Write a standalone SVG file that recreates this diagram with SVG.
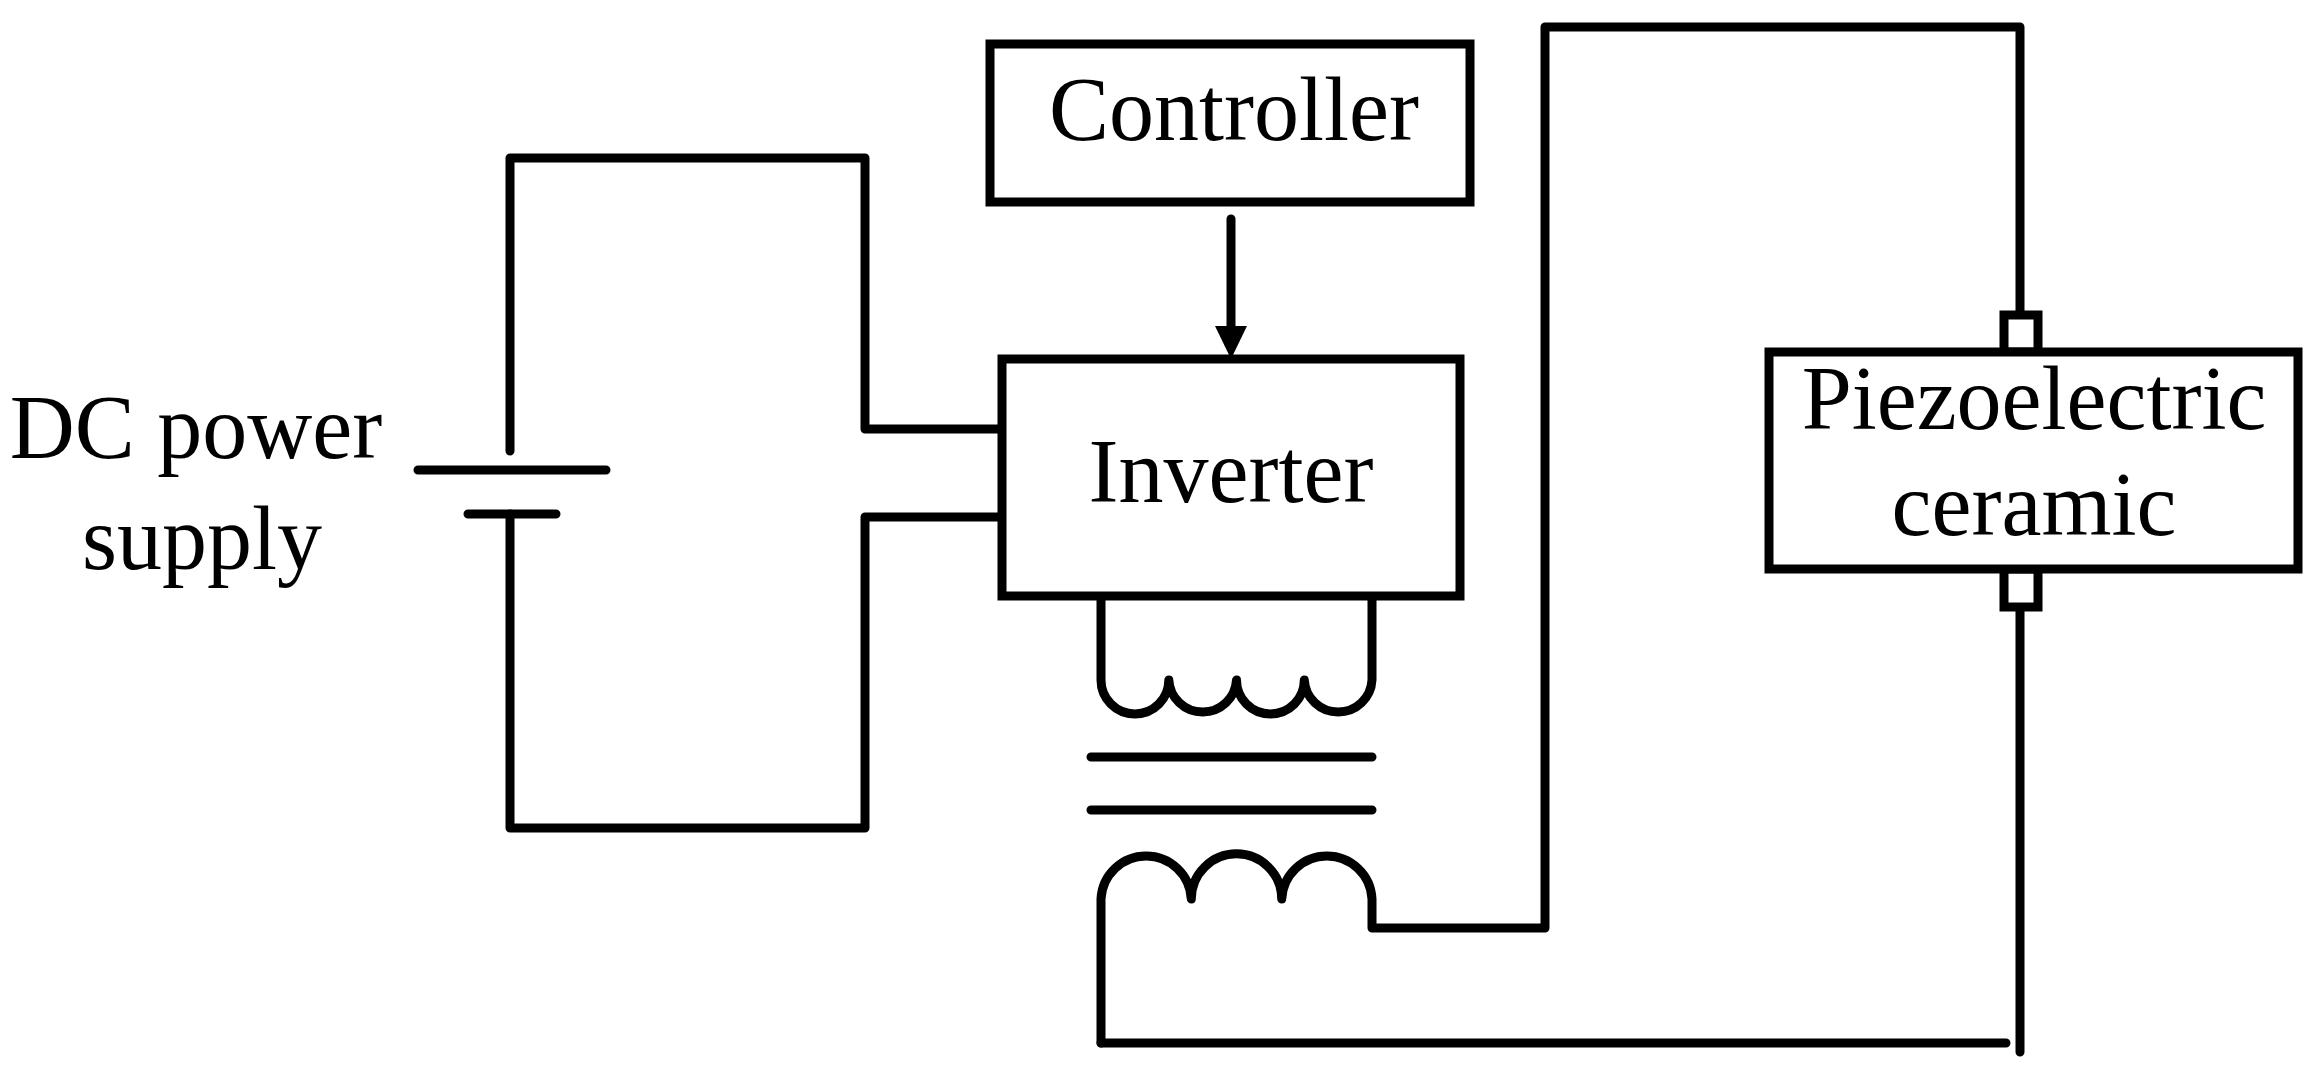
<svg xmlns="http://www.w3.org/2000/svg" width="2317" height="1077" viewBox="0 0 2317 1077">
<style>
.s{fill:none;stroke:#000;stroke-width:9;stroke-linecap:round;stroke-linejoin:round}
.b{fill:#fff;stroke:#000;stroke-width:9}
text{font-family:"Liberation Serif","Times New Roman",serif;font-size:90px;fill:#000;text-anchor:middle}
</style>
<defs><marker id="ah" markerWidth="10" markerHeight="10" refX="5" refY="10" orient="auto" markerUnits="userSpaceOnUse" viewBox="0 0 10 10"><path d="M0,0 L10,0 L5,10 Z"/></marker></defs>
<g id="connectors">
<path class="s" d="M510,451 V158 H865 V429 H1002"/>
<path class="s" d="M1002,517 H865 V828 H510 V514"/>
<path class="s" d="M1231,219 V330"/>
<path d="M1215,326 L1247,326 L1231,359 Z"/>
<path class="s" d="M1101,596 V680 A33.9,33.9 0 0 0 1168.8,680 A33.9,33.9 0 0 0 1236.5,680 A33.9,33.9 0 0 0 1304.3,680 A33.9,33.9 0 0 0 1372,680 V596"/>
<path class="s" d="M1091,757 H1372 M1091,810 H1372"/>
<path class="s" d="M1101,1043 V899 A45.2,45.2 0 0 1 1191.3,899 A45.2,45.2 0 0 1 1281.7,899 A45.2,45.2 0 0 1 1372,899 V928 H1545 V27 H2020 V315"/>
<path class="s" d="M1101,1043 H2006 M2020,607 V1052"/>
</g>
<g id="battery">
<path class="s" d="M418,470 H606 M468,514 H556"/>
<text x="196" y="458">DC power</text>
<text x="202" y="569">supply</text>
</g>
<g id="controller"><rect class="b" x="990" y="44" width="480" height="158"/><text x="1234" y="140">Controller</text></g>
<g id="inverter"><rect class="b" x="1002" y="359" width="458" height="237"/><text x="1231" y="502">Inverter</text></g>
<g id="piezo">
<rect class="b" x="2004" y="315" width="34" height="37"/>
<rect class="b" x="2004" y="569" width="34" height="38"/>
<rect class="b" x="1769" y="352" width="529" height="217"/>
<text x="2034" y="429">Piezoelectric</text>
<text x="2034" y="535">ceramic</text>
</g>
</svg>
